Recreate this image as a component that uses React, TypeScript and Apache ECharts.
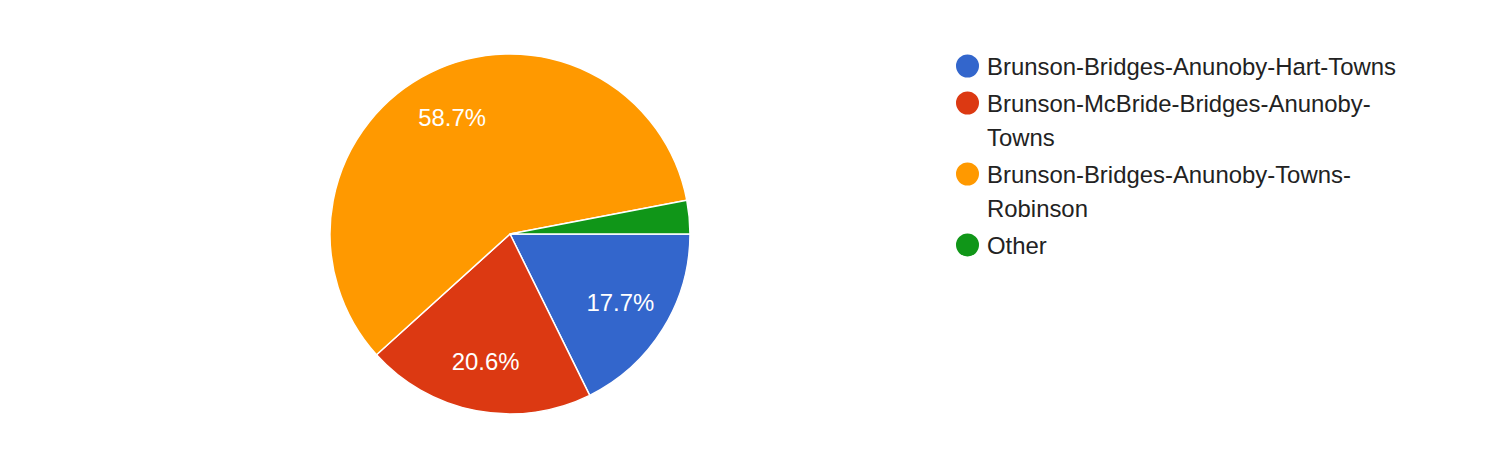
import React, { useEffect, useRef } from 'react';
import * as echarts from 'echarts';

const categories = [
  'Brunson-Bridges-Anunoby-Hart-Towns',
  'Brunson-McBride-Bridges-Anunoby-Towns',
  'Brunson-Bridges-Anunoby-Towns-Robinson',
  'Other',
];
const values = [17.7, 20.6, 58.7, 3.0];
const colors = ['#3366cc', '#dc3912', '#ff9900', '#109618'];
const legendLines = [
  ['Brunson-Bridges-Anunoby-Hart-Towns'],
  ['Brunson-McBride-Bridges-Anunoby-', 'Towns'],
  ['Brunson-Bridges-Anunoby-Towns-', 'Robinson'],
  ['Other'],
];

const FONT = 'Arial, "Liberation Sans", Helvetica, sans-serif';
const FS = 23.9;
const LH = 34;

export default function App() {
  const ref = useRef<HTMLDivElement>(null);
  useEffect(() => {
    if (!ref.current) return;
    const chart = echarts.init(ref.current, undefined, { renderer: 'svg' });
    const rich: Record<string, any> = {
      t: { fontSize: FS, color: '#222222', lineHeight: LH, fontFamily: FONT },
      g: { width: 8, lineHeight: LH, fontSize: FS },
      s: { width: 31, lineHeight: LH, fontSize: FS },
    };
    colors.forEach((c, i) => {
      rich['d' + i] = {
        width: 23,
        height: 23,
        borderRadius: 11.5,
        backgroundColor: c,
        lineHeight: LH,
        fontSize: FS,
      };
    });
    const data = categories.map((name, i) => ({
      name,
      value: values[i],
      itemStyle: { color: colors[i] },
    }));
    chart.setOption({
      animation: false,
      color: colors,
      legend: {
        data: categories,
        orient: 'vertical',
        left: 950,
        top: 49,
        padding: 0,
        itemGap: 3,
        itemWidth: 0,
        itemHeight: 0,
        selectedMode: false,
        formatter: (name: string) => {
          const idx = categories.indexOf(name);
          const lines = legendLines[idx];
          return lines
            .map((ln, k) =>
              k === 0 ? `{d${idx}| }{g| }{t|${ln}}` : `{s| }{t|${ln}}`
            )
            .join('\n');
        },
        textStyle: { fontFamily: FONT, fontSize: FS, color: '#222222', lineHeight: LH, rich },
      },
      series: [
        {
          type: 'pie',
          center: [510, 234],
          radius: [0, 180],
          startAngle: 0,
          clockwise: true,
          silent: true,
          label: { show: false },
          labelLine: { show: false },
          itemStyle: { borderColor: '#ffffff', borderWidth: 1.5 },
          data,
        },
        {
          type: 'pie',
          center: [510, 234],
          radius: [0, 254],
          startAngle: 0,
          clockwise: true,
          silent: true,
          itemStyle: { color: 'transparent', borderWidth: 0 },
          label: {
            show: true,
            position: 'inside',
            color: '#ffffff',
            fontSize: FS,
            fontFamily: FONT,
            formatter: (p: any) => (p.percent < 5 ? '' : `${p.percent.toFixed(1)}%`),
          },
          labelLine: { show: false },
          data: categories.map((name, i) => ({ name, value: values[i] })),
        },
      ],
    });
    return () => chart.dispose();
  }, []);
  return (
    <div
      ref={ref}
      style={{ position: 'absolute', left: 0, top: 0, width: 1500, height: 458, background: '#ffffff' }}
    />
  );
}
